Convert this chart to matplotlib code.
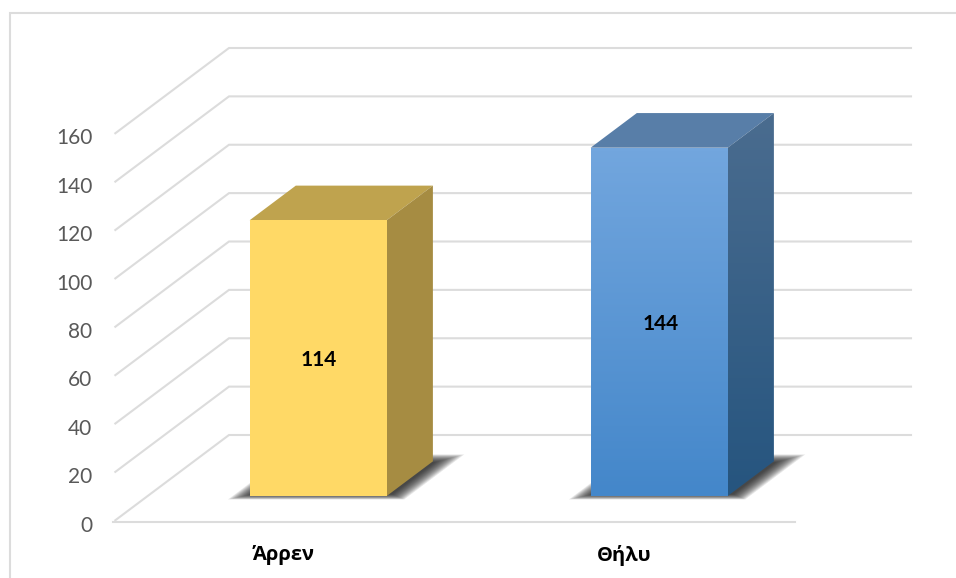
from matplotlib import pyplot as plt
from matplotlib.colors import LinearSegmentedColormap
from matplotlib.patches import Polygon
from matplotlib.transforms import Affine2D
import numpy as np

categories = ['Άρρεν', 'Θήλυ']
values = [114, 144]
ticks = [0, 20, 40, 60, 80, 100, 120, 140, 160]

front_colors = [('#FFD966', '#FFD966'), ('#4487CA', '#72A6DE')]
side_colors = [('#A68C42', '#A68C42'), ('#26557F', '#4A6C8F')]
top_colors = ['#BFA34E', '#587EA8']

GRID = '#DCDCDC'
BAR_W = 0.402
BAR_D0 = 0.299
BAR_D = 0.398
NUM_FONT = ['Lato', 'Open Sans']

plt.rcParams['font.family'] = ['Open Sans', 'DejaVu Sans']

W, H = 956, 578
fig = plt.figure(figsize=(W / 100, H / 100), dpi=100)
# the axes is the front plane of the 3d box, in pixels from the screenshot
left, right, y0, y160 = 113, 795, 522, 135
ax = fig.add_axes([left / W, 1 - y0 / H, (right - left) / W, (y0 - y160) / H])
ax.set_xlim(0, 2)
ax.set_ylim(0, 160)
ax.patch.set_alpha(0)

dx_unit = 116 / ((right - left) / 2)
dy_unit = 87 / ((y0 - y160) / 160)


def proj(x, v, d):
    # oblique projection, d = 0 front of box, d = 1 back wall
    return x + d * dx_unit, v + d * dy_unit


def face(pts, color, z):
    ax.add_patch(Polygon([proj(*p) for p in pts], closed=True, fc=color, ec='none',
                         zorder=z, clip_on=False))


def grad_face(pts, c_low, c_high, z):
    xy = np.array([proj(*p) for p in pts])
    cmap = LinearSegmentedColormap.from_list('f', [c_low, c_high])
    im = ax.imshow(np.linspace(1, 0, 64).reshape(-1, 1), cmap=cmap, aspect='auto', vmin=0, vmax=1,
                   extent=(xy[:, 0].min(), xy[:, 0].max(), xy[:, 1].min(), xy[:, 1].max()),
                   zorder=z, interpolation='bilinear')
    im.set_clip_path(Polygon(xy, closed=True, transform=ax.transData))
    im.set_clip_box(fig.bbox)


# grid on the walls
for t in ticks:
    x1, y1 = proj(0, t, 0.02)
    x2, y2 = proj(0, t, 1)
    x3, y3 = proj(2, t, 1)
    ax.plot([x1, x2, x3], [y1, y2, y3], color=GRID, lw=1.5, clip_on=False, zorder=1,
            solid_joinstyle='miter')

# bars
for i, v in enumerate(values):
    xa = i + 0.5 - BAR_W / 2
    xb = i + 0.5 + BAR_W / 2
    d1 = BAR_D0
    d2 = BAR_D0 + BAR_D

    # soft shadow on the floor
    for k in range(16):
        s = k / 15
        face([(xa - 0.05 + 0.05 * s, 0, d1 - 0.04 + 0.06 * s),
              (xb + 0.065 - 0.055 * s, 0, d1 - 0.04 + 0.06 * s),
              (xb + 0.065 - 0.055 * s, 0, d2 + 0.08 - 0.09 * s),
              (xa - 0.05 + 0.05 * s, 0, d2 + 0.08 - 0.09 * s)], (0.1, 0.1, 0.1, 0.09), 2)

    face([(xa, v, d1), (xb, v, d1), (xb, v, d2), (xa, v, d2)], top_colors[i], 3)
    grad_face([(xb, 0, d1), (xb, 0, d2), (xb, v, d2), (xb, v, d1)],
              side_colors[i][0], side_colors[i][1], 3)
    grad_face([(xa, 0, d1), (xb, 0, d1), (xb, v, d1), (xa, v, d1)],
              front_colors[i][0], front_colors[i][1], 4)

    ax.annotate(str(v), proj(i + 0.5, v / 2, d1), xytext=(0.7, -1.5), textcoords='offset points',
                ha='center', va='center', fontsize=15, fontweight='bold', family=NUM_FONT,
                color='black', zorder=5)

ax.set_xlim(0, 2)
ax.set_ylim(0, 160)

for s in ['top', 'right', 'left']:
    ax.spines[s].set_visible(False)
ax.spines['bottom'].set_color(GRID)
ax.spines['bottom'].set_linewidth(1.5)

ax.set_yticks(ticks)
ax.tick_params(axis='y', length=0, pad=15, labelsize=15, labelcolor='#595959')
for lab in ax.get_yticklabels():
    lab.set_family(NUM_FONT)
    lab.set_transform(lab.get_transform() + Affine2D().translate(0, -1.5))
ax.set_xticks([0.5, 1.5])
ax.set_xticklabels(categories, fontweight='bold', fontsize=14.5, color='black')
ax.tick_params(axis='x', length=0, pad=16.5)

# chart frame, runs off the screenshot to the right and bottom
frame = plt.Rectangle((10 / W, -0.1), 1.1, 1.1 - 13 / H, transform=fig.transFigure,
                      fc='white', ec=GRID, lw=1.5, zorder=-5)
fig.add_artist(frame)

fig.savefig('out.png', dpi=100)
